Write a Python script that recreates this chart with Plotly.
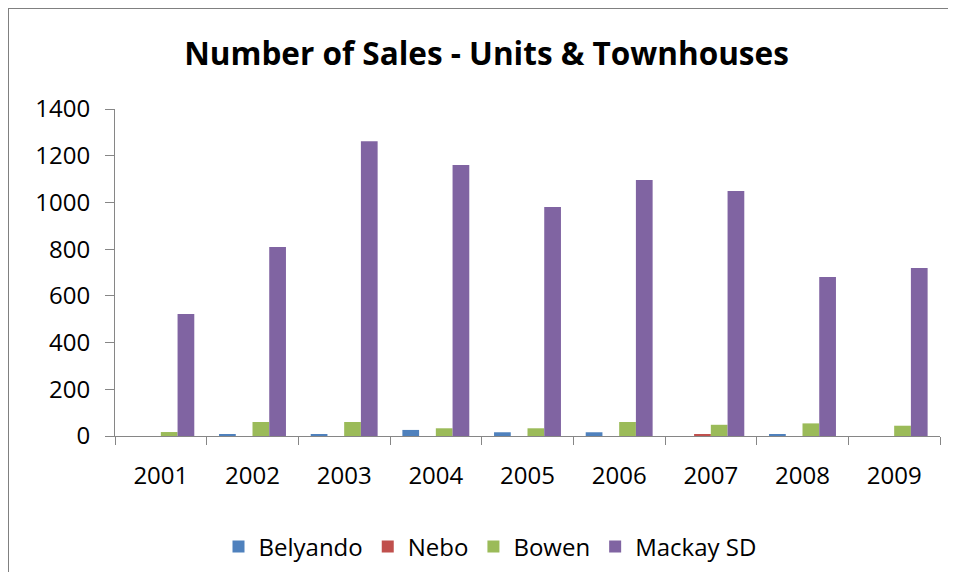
import plotly.graph_objects as go

years = ["2001", "2002", "2003", "2004", "2005", "2006", "2007", "2008", "2009"]
belyando = [0, 6, 6, 26, 16, 16, 0, 6, 0]
nebo = [0, 0, 0, 0, 0, 0, 5, 0, 0]
bowen = [17, 60, 60, 33, 33, 60, 48, 54, 44]
mackay = [522, 809, 1262, 1160, 980, 1096, 1049, 681, 719]

series = [
    ("Belyando", belyando, "#4F81BD"),
    ("Nebo", nebo, "#C0504D"),
    ("Bowen", bowen, "#9BBB59"),
    ("Mackay SD", mackay, "#8064A2"),
]

FONT = "Open Sans"
OFF = 8  # page body margin
W, H = 956 - 2 * OFF, 580 - 2 * OFF
# target pixel positions in the window
PL, PR, PT, PB = 115, 940, 109, 436
L, R, T, B = PL - OFF, W - (PR - OFF), PT - OFF, H - (PB - OFF)
pw, ph = W - L - R, H - T - B


def px_x(px):
    return (px - OFF - L) / pw


def px_y(py):
    return (PB - py) / ph


fig = go.Figure()
for name, vals, col in series:
    fig.add_trace(go.Bar(x=years, y=vals, name=name, marker=dict(color=col, line=dict(width=0))))

border = dict(color="#808080", width=2)
fig.update_layout(
    width=W, height=H,
    margin=dict(l=L, r=R, t=T, b=B, autoexpand=False),
    paper_bgcolor="white", plot_bgcolor="white",
    barmode="group", bargap=0.27, bargroupgap=0,
    title=dict(text="<b>Number of Sales - Units &amp; Townhouses</b>", x=(486.5 - OFF) / W, xanchor="center",
               y=1 - (54 - OFF) / H, yanchor="middle", yref="container",
               font=dict(family=FONT, size=31.5, color="black")),
    font=dict(family=FONT, size=24, color="black"),
    showlegend=True,
    legend=dict(orientation="h", xref="container", yref="container",
                x=(490 - OFF) / W, xanchor="center", y=1 - (547 - OFF) / H, yanchor="middle",
                font=dict(family=FONT, size=24, color="black"), itemwidth=30,
                traceorder="normal", bgcolor="rgba(0,0,0,0)"),
    xaxis=dict(type="category", showline=True, linecolor="#868686", linewidth=1,
               ticks="outside", tickson="boundaries", ticklen=8, tickcolor="#868686",
               tickfont=dict(family=FONT, size=24, color="black"), showgrid=False,
               ticklabelstandoff=18, automargin=False),
    yaxis=dict(range=[0, 1400], tickvals=[0, 200, 400, 600, 800, 1000, 1200, 1400],
               showline=True, linecolor="#868686", linewidth=1,
               ticks="outside", ticklen=9, tickcolor="#868686", showgrid=False, zeroline=False,
               tickfont=dict(family=FONT, size=24, color="black"), ticklabelstandoff=10,
               automargin=False),
    shapes=[
        dict(type="line", xref="paper", yref="paper",
             x0=px_x(7), x1=px_x(960), y0=px_y(8), y1=px_y(8), line=border, layer="above"),
        dict(type="line", xref="paper", yref="paper",
             x0=px_x(8), x1=px_x(8), y0=px_y(8), y1=px_y(600), line=border, layer="above"),
    ],
)

fig.write_html("out.html")
